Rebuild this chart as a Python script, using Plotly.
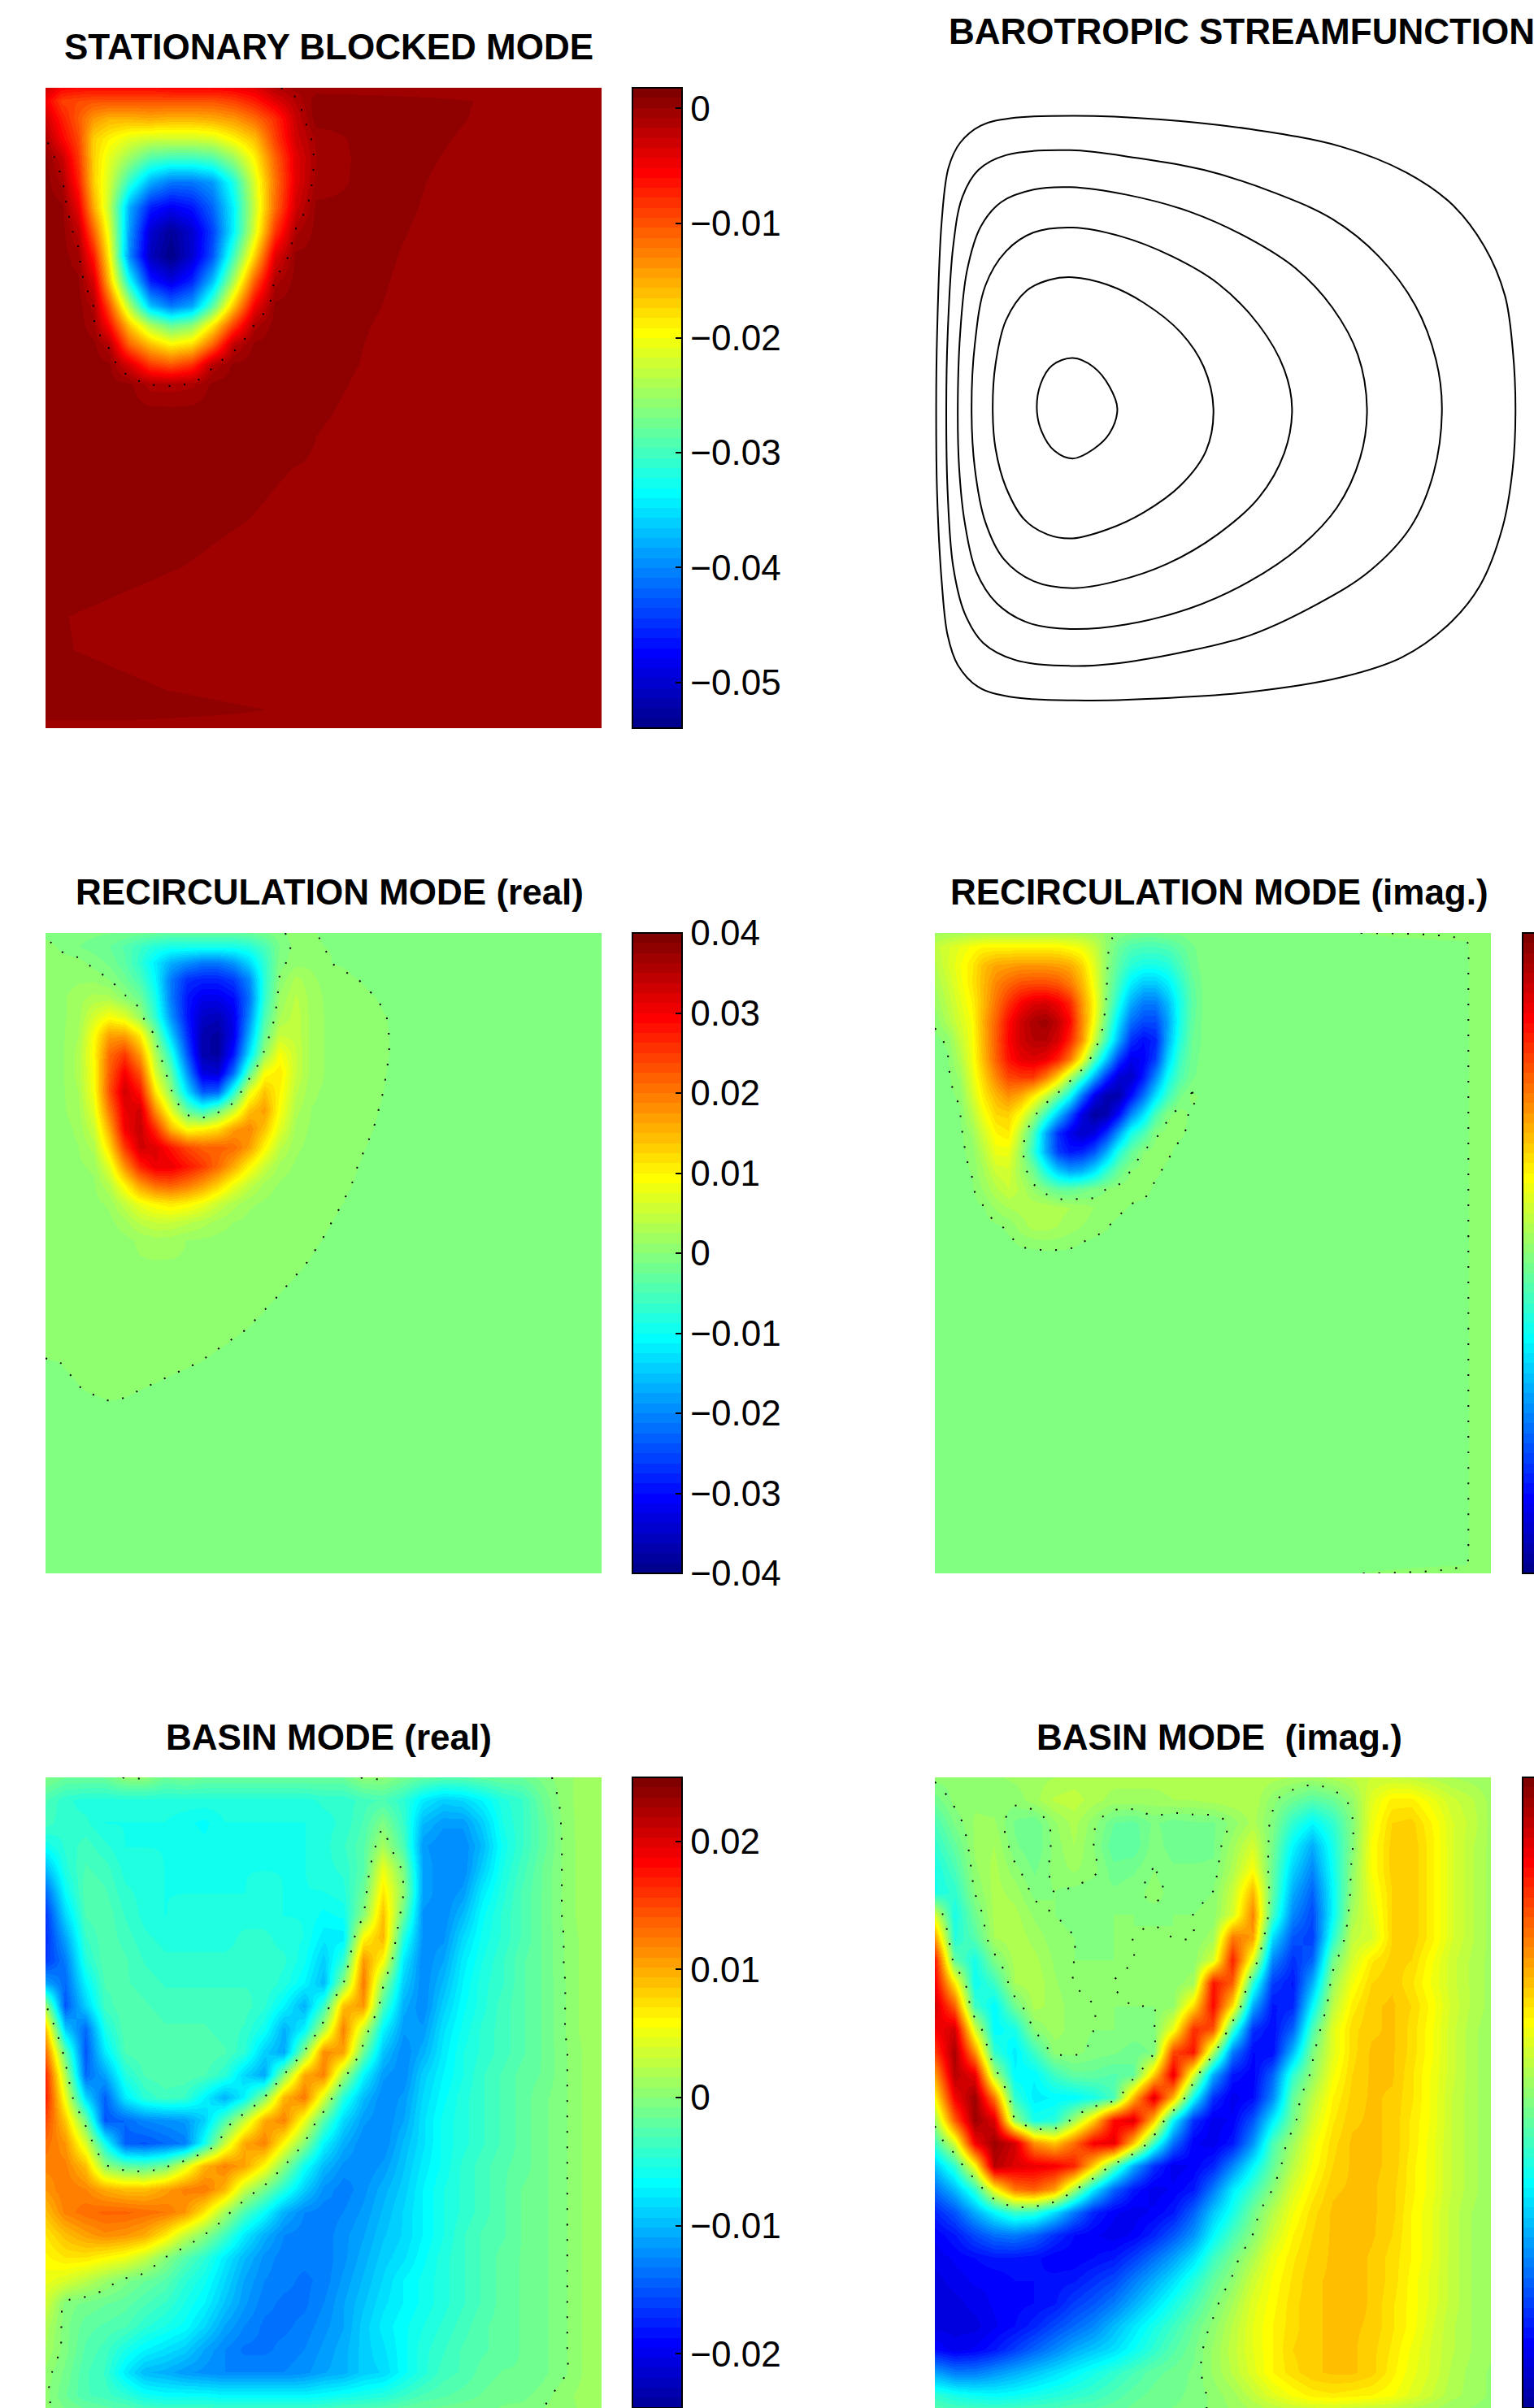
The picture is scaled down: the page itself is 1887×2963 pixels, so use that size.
import plotly.graph_objects as go

W, H = 1887, 2963

TITLES = ["STATIONARY BLOCKED MODE", "BAROTROPIC STREAMFUNCTION", "RECIRCULATION MODE (real)",
          "RECIRCULATION MODE (imag.)", "BASIN MODE (real)", "BASIN MODE  (imag.)"]

# ---------- stationary blocked mode: values in units of 1e-4 ----------
A_X = [88,120,150,180,210,250,290,330,370,410,450,490,530,570,610,700,800,900,1000,1160]
A_Y = [178,205,240,280,320,370,420,470,520,570,620,660,700,740,780,840,950,1050,1150,1250,1320,1400,1440,1478]
A_Z = [
[-30,-55,-60,-60,-60,-60,-60,-55,-55,-55,-50,-40,-15,-5,-4,-4,-4,-4,-4,-4],
[-50,-90,-95,-100,-100,-100,-100,-100,-100,-100,-90,-70,-40,-15,6.6,4.8,2.8,0.8,-1.2,-4.4],
[-30,-70,-105,-140,-155,-155,-150,-155,-155,-150,-140,-115,-80,-25,6.4,4.6,2.6,0.6,-1.4,-4.6],
[-12,-55,-95,-170,-190,-210,-220,-220,-220,-215,-190,-160,-90,-30,-6,4,2,0,-2,-5.2],
[3,-25,-85,-170,-210,-250,-290,-300,-300,-290,-250,-190,-110,-40,-8,3.5,1.5,-0.5,-2.5,-5.7],
[5,-10,-70,-170,-220,-310,-380,-410,-410,-390,-320,-215,-120,-40,-5,3,1,-1,-3,-6.2],
[5,3,-45,-150,-230,-380,-460,-480,-465,-420,-340,-225,-115,-30,3,2.7,0.7,-1.3,-3.3,-6.5],
[5,5,-20,-110,-210,-390,-500,-530,-500,-440,-340,-215,-85,-10,4.1,2.3,0.3,-1.7,-3.7,-6.9],
[5,5,-5,-70,-190,-400,-510,-540,-500,-430,-300,-170,-40,3,3.7,1.9,-0.1,-2.1,-4.1,-7],
[5,5,3,-35,-160,-330,-460,-490,-455,-370,-240,-105,-12,5,3.4,1.6,-0.4,-2.4,-4.4,-7],
[5,5,5,-12,-100,-240,-370,-410,-385,-290,-165,-50,3,5,3.1,1.3,-0.7,-2.7,-4.7,-7],
[5,5,5,-5,-60,-165,-240,-280,-260,-185,-90,-12,5,5,2.7,0.9,-1.1,-3.1,-5.1,-7],
[5,5,5,3,-15,-110,-160,-190,-175,-110,-20,3,5,5,2.4,0.6,-1.4,-3.4,-5.4,-7],
[5,5,5,5,3,-35,-85,-100,-80,-15,3,5,5,5,2.2,0.4,-1.6,-3.6,-5.6,-7],
[5,5,5,5,5,3,-12,-13,-10,3,5,5,5,5,1.8,0,-2,-4,-6,-7],
[5,5,5,5,5,5,5,5,5,5,5,5,5,5,1.2,-0.6,-2.6,-4.6,-6.6,-7],
[8,8,8,8,7.6,6.8,6,5.2,4.4,3.6,2.8,2,1.2,0.4,-0.4,-2.2,-4.2,-6.2,-7,-7],
[8,7.8,7.2,6.6,6,5.2,4.4,3.6,2.8,2,1.2,0.4,-0.4,-1.2,-2,-3.8,-5.8,-7,-7,-7],
[5.8,5.2,4.6,4,3.4,2.6,1.8,1,0.2,-0.6,-1.4,-2.2,-3,-3.8,-4.6,-6.4,-7,-7,-7,-7],
[1.44,0.8,0.2,-0.4,-1,-1.8,-2.6,-3.4,-4.2,-5,-5.8,-6.6,-7,-7,-7,-7,-7,-7,-7,-7],
[1.64,1,0.4,-0.2,-0.8,-1.6,-2.4,-3.2,-4,-4.8,-5.6,-6.4,-7,-7,-7,-7,-7,-7,-7,-7],
[5.2,4.6,4,3.4,2.8,2,1.2,0.4,-0.4,-1.2,-2,-2.8,-3.6,-4.4,-5.2,-7,-7,-7,-7,-7],
[6,6,6,6,6,5.8,5,4.2,3.4,2.6,1.8,1,0.2,-0.6,-1.4,-3.2,-5.2,-7,-7,-7],
[-4]*20,
]

# ---------- recirculation mode, real part: units of 1e-4 ----------
C_X = [88,120,150,180,210,240,270,300,330,360,390,420,450,480,510,540,570,600,640,680,720,760,800,1160]
C_Y = [171,200,235,270,310,350,390,430,470,510,550,590,630,670,710,750,790,830,880,950,1020,1090,1150,1200,1543]
C_Z = [
[-5,-5,-8,-10,-12,-15,-20,-25,-30,-30,-30,-30,-30,-25,-15,-3,6,0.5,-1.5,-3.5,-5.5,-7.5,-9.5,-11],
[6,-3,-12,-18,-25,-40,-60,-80,-90,-90,-90,-90,-90,-80,-50,-12,6,1.25,-0.75,-2.75,-4.75,-6.75,-8.75,-11],
[6,6,6,-5,-15,-35,-70,-120,-170,-195,-215,-215,-190,-140,-70,-5,8,10,0,-2,-4,-6,-8,-11],
[6,8,10,10,0,-20,-50,-110,-210,-270,-280,-280,-260,-200,-75,3,30,15,6,0.5,-1.5,-3.5,-5.5,-11],
[6,10,20,30,30,5,-20,-90,-210,-290,-320,-320,-300,-220,-70,15,40,20,6,2.25,0.25,-1.75,-3.75,-11],
[6,10,20,60,90,70,15,-70,-190,-290,-350,-360,-320,-200,-50,25,45,20,8,6,1.25,-0.75,-2.75,-11],
[6,10,25,90,170,170,110,-10,-140,-270,-370,-380,-320,-170,-25,50,45,20,8,6,1.5,-0.5,-2.5,-11],
[6,10,30,95,210,250,170,30,-80,-240,-370,-380,-290,-130,10,90,50,20,8,6,1.5,-0.5,-2.5,-11],
[6,10,30,90,220,300,230,60,-30,-190,-330,-340,-220,-40,90,110,50,20,8,6,1.25,-0.75,-2.75,-11],
[6,10,25,85,230,330,280,110,5,-130,-240,-230,-80,70,140,100,40,15,8,6,1,-1.1,-3,-11],
[6,10,20,70,200,310,330,180,70,-30,-70,-20,50,140,170,90,30,12,8,6,0.5,-1.5,-3.5,-11],
[6,8,15,50,160,300,340,260,150,90,100,120,170,190,140,70,20,10,8,2,0,-2,-4,-11],
[6,8,12,30,120,250,330,320,280,240,220,220,210,170,100,40,15,8,6,1.25,-0.75,-2.75,-4.75,-11],
[6,6,10,15,70,180,270,310,310,280,250,210,160,100,50,20,10,6,2.5,0.5,-1.5,-3.5,-5.5,-11],
[6,6,8,10,35,100,170,210,220,200,170,130,80,45,20,10,6,5,2,-0.1,-2,-4,-6,-11],
[6,6,6,8,15,45,80,100,110,100,80,50,30,15,10,6,6,4,1,-1,-3,-5,-7,-11],
[6,6,6,6,8,20,40,50,50,40,30,20,12,8,6,6,5,2,0,-2,-4,-6,-8,-11],
[6,6,6,6,6,8,15,20,18,12,10,8,6,6,6,6,4,1,-1,-3,-5,-7,-9,-11],
[11,11,11,11,11,11,11,11,11,11,10,8.5,7,5.5,4,2.5,1,-0.5,-2.5,-4.5,-6.5,-8.5,-10.5,-11],
[11,11,11,11,11,11,11,11,10.25,8.75,7.25,5.75,4.25,2.75,1.25,-0.25,-1.75,-3.25,-5.25,-7.25,-9.25,-11,-11,-11],
[11,11,11,11,11,11,10.25,8.75,7.25,5.75,4.25,2.75,1.25,-0.25,-1.75,-3.25,-4.75,-6.25,-8.25,-10.25,-11,-11,-11,-11],
[-1.35,0.25,1.75,3.25,4.75,6.25,5.75,4.25,2.75,1.25,-0.25,-1.75,-3.25,-4.75,-6.25,-7.75,-9.25,-10.75,-11,-11,-11,-11,-11,-11],
[-3.6,-2,-0.5,1,2.5,1.5,0,-1.5,-3,-4.5,-6,-7.5,-9,-10.5,-11,-11,-11,-11,-11,-11,-11,-11,-11,-11],
[-7,-6,-5,-4,-3,-3,-4,-5,-6,-7,-8,-9,-10,-11,-11,-11,-11,-11,-11,-11,-11,-11,-11,-11],
[-5]*24,
]

# ---------- recirculation mode, imaginary part: units of 1e-4 ----------
D_X = [100,130,160,190,220,250,280,310,340,370,400,430,460,490,520,550,580,610,640,670,700,730,760,800,1100,1400,1415,1462]
D_Y = [171,200,240,280,320,360,400,440,480,520,560,600,640,680,720,760,800,840,860,1000,1480,1510,1543]
D_Z = [
[20,25,25,30,30,30,30,30,30,30,30,30,25,20,10,-5,-10,-15,-15,-10,-10,-5,-5,-5,-1,6,6,6],
[45,60,75,90,100,100,100,100,100,100,100,90,80,50,8,-25,-45,-50,-50,-45,-30,-15,-5,-5,-5,-5,6,6],
[35,60,85,110,145,165,170,175,175,175,170,160,125,70,5,-40,-75,-90,-90,-80,-50,-20,-5,-5,-5,-5,6,6],
[25,50,80,110,150,190,215,235,240,240,230,200,150,80,3,-60,-120,-150,-150,-120,-75,-30,-8,-5,-5,-5,6,6],
[15,40,70,100,150,205,255,295,320,325,305,265,175,95,-3,-90,-170,-210,-210,-160,-90,-35,-8,-5,-5,-5,6,6],
[3,30,60,90,160,220,285,330,360,370,340,290,185,85,-25,-130,-220,-250,-250,-180,-90,-30,-8,-5,-5,-5,6,6],
[-5,3,45,85,155,225,290,330,350,350,325,265,175,50,-60,-170,-270,-300,-280,-170,-80,-25,-8,-5,-5,-5,6,6],
[-5,-3,30,80,150,220,280,310,320,310,270,200,90,-40,-150,-260,-320,-310,-260,-140,-60,-20,-5,-5,-5,-5,6,6],
[-5,-5,15,70,130,190,240,250,250,200,130,30,-60,-170,-270,-340,-350,-290,-200,-100,-45,-15,-5,-5,-5,-5,6,6],
[-5,-5,3,55,110,150,180,160,110,50,-20,-100,-220,-320,-370,-370,-300,-220,-130,-60,-15,3,-3,-5,-5,-5,6,6],
[-5,-5,-3,35,85,125,130,90,20,-60,-150,-240,-330,-380,-370,-300,-200,-130,-50,-3,6,-3,-5,-5,-5,-5,6,6],
[-5,-5,-5,15,60,100,110,40,-50,-170,-270,-320,-350,-330,-270,-180,-90,-50,-3,6,3,-5,-5,-5,-5,-5,6,6],
[-5,-5,-5,5,40,80,80,20,-70,-170,-260,-290,-280,-240,-170,-80,-30,0,6,3,-5,-5,-5,-5,-5,-5,6,6],
[-5,-5,-5,1,25,55,60,20,-20,-90,-150,-180,-170,-130,-70,-25,0,6,3,-3,-5,-5,-5,-5,-5,-5,6,6],
[-5,-5,-5,-3,15,35,50,35,10,-10,-30,-30,-20,-10,0,8,8,6,-3,-5,-5,-5,-5,-5,-5,-5,6,6],
[-5,-5,-5,-5,-1,15,25,30,35,35,30,25,20,12,8,4,-2,-5,-5,-5,-5,-5,-5,-5,-5,-5,6,6],
[-5,-5,-5,-5,-5,-3,3,18,30,30,25,18,12,6,1,-5,-5,-5,-5,-5,-5,-5,-5,-5,-5,-5,6,6],
[-5,-5,-5,-5,-5,-5,-5,1,3,6,5,3,-2,-5,-5,-5,-5,-5,-5,-5,-5,-5,-5,-5,-5,-5,6,6],
[-5]*26+[6,6],
[-5]*26+[6,6],
[-5]*26+[6,6],
[-5]*26+[6,6],
[-5]*24+[-1,6,6,6],
]

# ---------- basin mode, common grid ----------
BASIN_XE = [88+1072*i/28 for i in range(29)]
BASIN_XF = [100+1362*i/28 for i in range(29)]
BASIN_Y = [158+1432*j/28 for j in range(29)]

# basin mode, real part: units of 1e-4
E_Z = [
[-5,-15,-15,-15,2,2,-15,-10,-15,-15,-15,-15,-15,-15,-15,-15,2,2,-10,-20,-25,-25,-20,-15,-15,-5,5,10,10],
[-30,-45,-50,-50,-50,-50,-50,-50,-50,-50,-50,-50,-50,-50,-45,-45,-35,-30,-45,-75,-90,-85,-70,-50,-40,-15,3,12,12],
[-35,-45,-45,-55,-55,-55,-55,-60,-65,-55,-55,-55,-55,-55,-50,-45,-30,-5,-40,-100,-115,-115,-90,-55,-40,-20,1,12,12],
[-60,-45,-35,-45,-55,-55,-55,-55,-60,-55,-55,-55,-55,-55,-50,-40,-25,15,-30,-115,-125,-125,-100,-60,-40,-20,0,12,12],
[-100,-50,-30,-35,-50,-50,-55,-55,-55,-55,-55,-55,-55,-55,-50,-45,-25,50,-5,-110,-125,-125,-90,-55,-35,-15,0,12,12],
[-140,-65,-25,-30,-45,-50,-55,-55,-55,-55,-55,-50,-55,-55,-55,-50,-15,70,5,-110,-125,-115,-75,-50,-30,-15,0,12,12],
[-165,-85,-30,-25,-40,-50,-55,-50,-50,-50,-50,-50,-55,-55,-65,-60,0,90,-15,-120,-125,-100,-65,-45,-30,-15,0,12,12],
[-170,-110,-40,-25,-35,-45,-50,-50,-50,-50,-45,-45,-50,-55,-75,-75,60,95,-50,-120,-120,-85,-60,-45,-30,-15,-1,10,12],
[-165,-130,-50,-25,-30,-40,-45,-45,-45,-45,-45,-45,-45,-60,-90,-45,110,60,-75,-125,-110,-75,-55,-40,-25,-15,-1,10,12],
[-110,-140,-70,-30,-30,-35,-40,-40,-40,-40,-40,-40,-50,-70,-100,0,125,5,-90,-125,-100,-70,-50,-40,-25,-15,-2,10,12],
[10,-150,-90,-35,-25,-30,-35,-35,-35,-35,-35,-45,-70,-105,-40,90,110,-30,-105,-125,-90,-65,-50,-35,-25,-15,-2,10,12],
[90,-90,-140,-55,-25,-25,-30,-30,-30,-35,-40,-60,-105,-70,20,120,30,-70,-115,-115,-80,-60,-45,-35,-25,-15,-2,10,12],
[130,-20,-150,-75,-30,-25,-25,-25,-25,-30,-45,-90,-110,0,115,105,-15,-95,-125,-105,-75,-55,-45,-35,-25,-15,-3,8,12],
[165,20,-140,-110,-50,-30,-25,-25,-30,-45,-85,-110,0,100,120,15,-70,-115,-125,-90,-70,-55,-40,-30,-20,-15,-3,8,12],
[170,50,-85,-145,-75,-45,-35,-40,-70,-105,-70,0,95,125,40,-50,-100,-125,-115,-85,-65,-50,-40,-30,-20,-10,-3,8,12],
[150,85,-10,-150,-140,-125,-120,-115,-90,-30,30,100,120,50,-25,-85,-115,-125,-110,-80,-60,-50,-40,-30,-20,-10,-3,8,12],
[130,110,40,-60,-145,-150,-140,-130,-60,30,100,120,60,0,-70,-105,-125,-125,-100,-80,-60,-50,-40,-30,-20,-10,-3,8,12],
[120,120,90,5,-20,-25,-10,40,95,120,105,60,0,-60,-100,-120,-125,-115,-95,-75,-60,-45,-35,-25,-20,-10,-3,8,12],
[110,125,118,100,90,90,105,120,125,95,30,-10,-50,-90,-120,-130,-120,-105,-90,-70,-55,-45,-35,-25,-15,-10,-3,8,12],
[90,120,130,135,135,130,125,110,70,15,-30,-65,-105,-125,-130,-125,-115,-100,-85,-70,-55,-45,-35,-25,-15,-10,-3,8,12],
[70,90,105,115,110,100,70,30,0,-35,-75,-105,-125,-130,-130,-120,-110,-95,-85,-70,-55,-40,-30,-25,-15,-10,-3,8,12],
[60,70,70,60,50,30,0,-25,-45,-75,-100,-120,-130,-130,-130,-120,-105,-90,-80,-65,-50,-40,-30,-20,-15,-10,-3,8,12],
[50,40,25,10,-5,-15,-25,-45,-60,-85,-110,-125,-130,-135,-130,-115,-100,-85,-70,-60,-50,-40,-30,-20,-15,-10,-3,8,12],
[35,-3,-10,-15,-20,-30,-40,-55,-70,-95,-115,-130,-135,-135,-125,-110,-95,-80,-70,-60,-50,-40,-30,-20,-15,-10,-3,8,12],
[20,-5,-20,-25,-30,-45,-55,-65,-85,-110,-125,-135,-135,-130,-120,-110,-90,-75,-65,-55,-45,-35,-25,-20,-15,-10,-3,8,12],
[15,-5,-25,-35,-55,-70,-80,-90,-110,-125,-135,-135,-130,-125,-115,-105,-90,-80,-65,-50,-40,-30,-25,-20,-15,-10,-3,8,12],
[5,-10,-30,-40,-75,-100,-105,-115,-120,-125,-125,-125,-125,-120,-110,-105,-90,-85,-65,-50,-35,-30,-20,-15,-15,-10,-3,8,12],
[3,-15,-30,-35,-45,-60,-65,-65,-65,-70,-70,-70,-70,-70,-65,-60,-55,-50,-40,-30,-25,-20,-15,-10,-10,-5,5,10,12],
[3,-3,-5,-10,-10,-15,-15,-15,-15,-15,-15,-15,-15,-15,-15,-10,-10,-10,-5,-5,-5,-5,-5,-5,-3,3,5,8,10],
]

# basin mode, imaginary part: units of 1e-4
F_Z = [
[5,5,10,10,15,20,25,30,30,30,30,30,30,30,30,30,35,30,25,20,30,40,50,50,45,35,25,20,15],
[-20,5,10,5,5,20,40,45,30,20,20,20,25,25,30,35,35,5,-20,-40,-25,10,70,105,105,80,55,40,20],
[-50,-10,15,15,-15,-25,10,30,5,-25,-30,-10,-20,-15,-15,5,30,-5,-70,-110,-70,-5,80,125,130,100,65,45,20],
[-70,-30,15,25,-10,-25,5,25,0,-35,-35,-5,-20,-20,-15,20,60,-15,-110,-170,-90,-5,90,130,135,105,65,40,20],
[-90,-50,10,30,5,-15,5,15,5,-20,-15,0,-10,-10,-10,30,90,-25,-140,-200,-100,5,90,130,135,105,65,40,20],
[-90,-70,0,30,20,-5,0,-5,-10,-10,-5,5,-5,-5,0,50,150,-30,-170,-230,-110,10,80,125,135,105,65,40,20],
[60,-90,-20,30,30,10,0,-5,-5,0,0,-5,0,0,5,60,190,-50,-200,-250,-110,25,70,125,135,105,65,40,20],
[170,-80,-40,25,35,20,5,0,-10,0,0,5,0,0,20,200,170,-130,-240,-260,-80,45,60,125,135,105,65,40,20],
[280,-30,-90,-10,30,30,10,0,0,0,0,5,5,5,60,270,70,-200,-270,-230,-20,60,110,130,125,90,55,35,20],
[300,110,-100,-60,25,35,15,0,0,0,5,5,5,20,280,220,-70,-260,-290,-170,15,85,125,135,115,85,55,35,20],
[330,220,-60,-110,-20,30,20,5,0,0,0,0,10,120,290,120,-170,-290,-280,-110,40,105,135,140,125,95,60,35,20],
[300,330,60,-110,-90,0,20,5,0,0,-5,-5,80,260,230,-60,-270,-300,-230,-50,70,120,135,140,120,90,55,30,15],
[250,360,180,-70,-120,-60,5,5,-5,-10,-20,-10,240,280,30,-210,-300,-300,-160,-10,70,120,140,140,120,90,55,30,15],
[170,350,310,30,-110,-110,-60,-30,-30,-40,-30,130,310,60,-170,-290,-310,-230,-70,10,85,125,140,140,115,85,55,30,15],
[100,300,370,200,-70,-120,-110,-110,-90,-50,150,320,150,-100,-270,-320,-300,-200,-30,40,100,130,140,135,115,85,50,30,15],
[20,220,370,320,10,-90,-80,20,130,290,320,140,-110,-270,-320,-310,-240,-120,-15,60,110,135,140,135,110,85,50,30,15],
[-60,60,300,370,330,180,140,210,300,310,140,-60,-220,-310,-320,-290,-190,-50,20,80,120,140,140,135,110,80,50,30,15],
[-150,-70,90,350,320,310,300,270,130,-30,-170,-270,-320,-310,-280,-200,-110,-30,40,90,125,140,140,135,105,80,50,30,15],
[-220,-160,-70,90,200,220,170,20,-120,-230,-290,-320,-310,-290,-210,-120,-60,0,65,105,135,140,140,130,105,80,50,30,15],
[-280,-240,-170,-110,-60,-70,-130,-210,-280,-310,-320,-310,-290,-230,-150,-90,-20,35,85,120,140,145,140,130,100,75,45,25,15],
[-310,-290,-250,-220,-210,-230,-270,-300,-310,-320,-310,-280,-240,-190,-110,-50,0,55,100,125,140,145,140,125,100,75,45,25,15],
[-320,-310,-300,-290,-290,-295,-310,-310,-300,-290,-260,-220,-180,-130,-60,-15,30,80,110,130,140,145,135,120,100,75,45,25,15],
[-330,-320,-310,-310,-300,-300,-295,-290,-270,-250,-210,-170,-130,-80,-30,5,55,90,115,135,140,145,135,120,95,70,45,25,15],
[-330,-330,-320,-310,-305,-300,-290,-260,-240,-210,-170,-130,-90,-50,-10,25,70,95,120,135,140,145,135,115,95,70,45,25,15],
[-330,-330,-330,-315,-300,-280,-250,-225,-200,-160,-125,-90,-60,-25,5,40,75,100,120,135,140,140,135,115,95,65,40,25,15],
[-300,-320,-310,-290,-260,-230,-200,-170,-150,-130,-100,-70,-40,-15,15,45,75,100,125,135,140,140,130,110,85,60,40,25,15],
[-180,-210,-210,-190,-170,-150,-130,-110,-90,-70,-50,-30,-20,-10,15,40,70,100,120,135,140,140,130,105,80,60,35,20,10],
[-70,-90,-100,-105,-100,-90,-80,-70,-60,-45,-30,-20,-15,-10,5,20,45,70,90,105,110,105,100,90,70,50,30,20,10],
[-20,-25,-25,-25,-25,-25,-25,-20,-20,-20,-15,-15,-10,-10,5,10,15,20,25,25,25,20,15,15,10,10,5,5,5],
]

# ---------- barotropic streamfunction contours ----------
PSI_1 = [(487,830),(495,780),(520,742),(565,727),(610,745),(645,785),(662,830),(645,880),(610,912),(565,931),(525,915),(497,875),(487,830)]
PSI_2 = [(391,830),(397,740),(420,650),(465,590),(515,568),(565,563),(640,578),(720,615),(800,675),(850,745),(871,830),(855,915),(800,985),(720,1040),(640,1075),(565,1093),(510,1085),(460,1055),(420,990),(397,910),(391,830)]
PSI_3 = [(345,830),(352,700),(375,580),(420,510),(480,472),(565,462),(670,480),(780,520),(880,575),(970,660),(1025,750),(1042,830),(1025,920),(970,1010),(880,1085),(770,1145),(660,1180),(565,1194),(480,1180),(415,1135),(375,1060),(352,950),(345,830)]
PSI_4 = [(315,830),(320,680),(335,550),(365,460),(410,410),(480,385),(560,380),(680,395),(820,430),(950,485),(1050,545),(1130,625),(1185,720),(1205,830),(1190,930),(1140,1030),(1060,1110),(950,1180),(820,1235),(680,1268),(560,1277),(470,1265),(400,1225),(355,1160),(330,1060),(318,950),(315,830)]
PSI_5 = [(290,830),(293,680),(305,500),(325,400),(360,345),(420,315),(560,305),(700,320),(850,345),(1000,390),(1130,445),(1230,520),(1310,620),(1355,730),(1368,830),(1350,960),(1300,1070),(1210,1160),(1100,1225),(950,1290),(800,1325),(650,1348),(560,1352),(440,1340),(370,1305),(330,1245),(305,1150),(293,1000),(290,830)]
PSI_6 = [(268,830),(270,680),(280,450),(295,340),(320,290),(365,255),(430,240),(570,235),(750,242),(950,262),(1150,298),(1290,350),(1390,415),(1460,500),(1505,600),(1522,710),(1528,830),(1522,950),(1500,1070),(1450,1190),(1380,1270),(1280,1335),(1150,1375),(950,1405),(750,1418),(570,1422),(430,1415),(360,1395),(315,1350),(293,1290),(280,1180),(270,1000),(268,830)]

TICKS_A = [0, -0.01, -0.02, -0.03, -0.04, -0.05]
TICKS_C = [0.04, 0.03, 0.02, 0.01, 0, -0.01, -0.02, -0.03, -0.04]
TICKS_E = [0.02, 0.01, 0, -0.01, -0.02]
TICKS_D = [0.03, 0.02, 0.01, 0, -0.01, -0.02, -0.03]


def jet(k, n=64):
    t = (k + 1) / n
    c = lambda o: max(0.0, min(1.0, 4 * t - o, -4 * t + o + 3))
    return "rgb(%d,%d,%d)" % (round(255 * c(1.5)), round(255 * c(0.5)), round(255 * c(-0.5)))


def scale(full_lo, full_hi, lo, hi, n=64):
    w = (full_hi - full_lo) / n
    out = []
    for k in range(n):
        a = (full_lo + k * w - lo) / (hi - lo)
        b = (full_lo + (k + 1) * w - lo) / (hi - lo)
        if b <= 0:
            continue
        out += [[max(a, 0.0), jet(k)], [min(b, 1.0), jet(k)]]
    return out


def label(v):
    if v == 0:
        return "0"
    return ("\u2212" if v < 0 else "") + "%g" % abs(v)


FONT = "Liberation Sans, Arial, sans-serif"
fig = go.Figure()
layout = {}
shapes = []
annos = []
n_axes = 0


def add_axes(px0, px1, py0, py1, xr, yr):
    global n_axes
    n_axes += 1
    s = "" if n_axes == 1 else str(n_axes)
    layout["xaxis" + s] = dict(domain=[px0 / W, px1 / W], range=xr, visible=False, anchor="y" + s, fixedrange=True)
    layout["yaxis" + s] = dict(domain=[1 - py1 / H, 1 - py0 / H], range=yr, visible=False, anchor="x" + s, fixedrange=True)
    return "x" + s, "y" + s


def panel(x, y, z, px0, px1, py0, py1, xr, yr, full, bar_lo, cbx, ticks, level=0.0, labels=True):
    xa, ya = add_axes(px0, px1, py0, py1, xr, yr)
    zv = [[v / 1e4 for v in row] for row in z]
    lo, hi = bar_lo, full[1]
    fig.add_trace(go.Heatmap(
        x=x, y=y, z=zv, xaxis=xa, yaxis=ya, zmin=lo, zmax=hi, zsmooth="best", hoverinfo="skip",
        colorscale=scale(full[0], full[1], lo, hi),
        colorbar=dict(
            x=cbx / W, xanchor="left", y=1 - py0 / H, yanchor="top", xpad=0, ypad=0,
            lenmode="pixels", len=py1 - py0, thicknessmode="pixels", thickness=61,
            outlinecolor="black", outlinewidth=2, tickmode="array", tickvals=ticks,
            ticktext=[label(v) for v in ticks], ticks="inside", ticklen=9, tickwidth=2, tickcolor="black",
            showticklabels=labels, tickfont=dict(family=FONT, size=44, color="black"))))
    fig.add_trace(go.Contour(
        x=x, y=y, z=zv, xaxis=xa, yaxis=ya, showscale=False, autocontour=False, hoverinfo="skip",
        contours=dict(coloring="none", start=level, end=level, size=1),
        line=dict(color="black", width=2, dash="2px,17px", smoothing=1)))
    for v in ticks:
        yp = py0 + (hi - v) / (hi - lo) * (py1 - py0)
        shapes.append(dict(type="line", xref="paper", yref="paper", x0=cbx / W, x1=(cbx + 9) / W,
                           y0=1 - yp / H, y1=1 - yp / H, line=dict(color="black", width=2)))


def title(text, cx, cy):
    annos.append(dict(text="<b>%s</b>" % text, x=cx / W, y=1 - cy / H, xref="paper", yref="paper", showarrow=False,
                      xanchor="center", yanchor="middle", font=dict(family=FONT, size=44, color="black")))


panel(A_X, A_Y, A_Z, 56, 740, 108, 896, [88, 1160], [1478, 178], (-0.054, 0.0018), -0.054, 778, TICKS_A, level=-0.0012)
panel(C_X, C_Y, C_Z, 56, 740, 1148, 1936, [88, 1160], [1543, 171], (-0.04, 0.04), -0.04, 778, TICKS_C)
panel(D_X, D_Y, D_Z, 1150, 1834, 1148, 1936, [100, 1462], [1543, 171], (-0.04, 0.04), -0.04, 1873, TICKS_D, labels=False)
bot = (H - 2187) / 788
panel(BASIN_XE, BASIN_Y, E_Z, 56, 740, 2187, H, [88, 1160], [158 + 1432 * bot, 158], (-0.025, 0.025), 0.025 - 0.05 * bot, 778, TICKS_E)
panel(BASIN_XF, BASIN_Y, F_Z, 1150, 1834, 2187, H, [100, 1462], [158 + 1432 * bot, 158], (-0.04, 0.04), 0.04 - 0.08 * bot, 1873, TICKS_D, labels=False)

xa, ya = add_axes(1100, 1887, 80, 950, [100 * 1.768, 887 * 1.768], [950 * 1.65, 80 * 1.65])
for psi in (PSI_1, PSI_2, PSI_3, PSI_4, PSI_5, PSI_6):
    fig.add_trace(go.Scatter(x=[p[0] for p in psi], y=[p[1] for p in psi], mode="lines", xaxis=xa, yaxis=ya,
                             hoverinfo="skip", showlegend=False,
                             line=dict(color="black", width=2, shape="spline", smoothing=1)))

title(TITLES[0], 404, 58)
title(TITLES[1], 1527, 39)
title(TITLES[2], 405, 1098)
title(TITLES[3], 1500, 1098)
title(TITLES[4], 404, 2137)
title(TITLES[5], 1500, 2137)

fig.update_layout(width=W, height=H, margin=dict(l=0, r=0, t=0, b=0, autoexpand=False), showlegend=False,
                  paper_bgcolor="white", plot_bgcolor="white", shapes=shapes, annotations=annos, **layout)
fig.write_html("out.html", config=dict(displayModeBar=False),
               post_script="document.body.style.margin='0';document.body.style.overflow='hidden';")
